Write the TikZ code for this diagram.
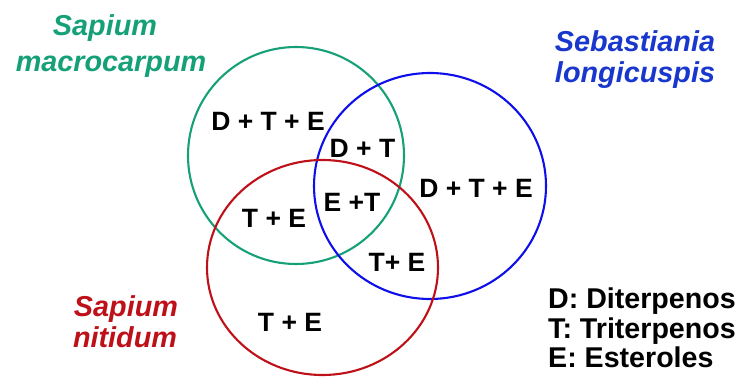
\documentclass[tikz,border=0pt]{standalone}
\usepackage{fontspec}
\setmainfont{Liberation Sans}
\definecolor{cgreen}{RGB}{22,160,120}
\definecolor{cblue}{RGB}{15,15,235}
\definecolor{cbluet}{RGB}{25,55,205}
\definecolor{cred}{RGB}{190,16,24}
\begin{document}
\begin{tikzpicture}[x=1pt,y=-1pt,
  ring/.style={line width=2.1pt},
  lbl/.style={font=\fontsize{26.5}{30}\selectfont\bfseries, anchor=base, inner sep=0pt},
  sp/.style={font=\fontsize{28.8}{32}\selectfont\bfseries\itshape, anchor=base, inner sep=0pt},
  leg/.style={font=\fontsize{28.6}{32}\selectfont\bfseries, anchor=base west, inner sep=0pt}]
\useasboundingbox (0,0) rectangle (741,379);
\draw[ring, cgreen] (296,155.5) ellipse [x radius=108, y radius=108.5];
\draw[ring, cblue] (430,186) ellipse [x radius=116, y radius=113];
\draw[ring, cred] (322.5,267.5) ellipse [x radius=115.5, y radius=107.5];
% region labels
\node[lbl] (g) at (268,131) {D + T + E};
\node[lbl] (gb) at (362.5,158) {D + T};
\node[lbl] (b) at (476,198) {D + T + E};
\node[lbl] (gbr) at (352,212) {E +T};
\node[lbl] (gr) at (274,228) {T + E};
\node[lbl] (br) at (397,272) {T+ E};
\node[lbl] (r) at (290,331) {T + E};
% species
\node[sp, text=cgreen] (s1a) at (105,36) {Sapium};
\node[sp, text=cgreen] (s1b) at (111,72) {macrocarpum};
\node[sp, text=cbluet] (s2a) at (635,52) {Sebastiania};
\node[sp, text=cbluet] (s2b) at (635,83) {longicuspis};
\node[sp, text=cred] (s3a) at (126,316) {Sapium};
\node[sp, text=cred] (s3b) at (125,347) {nitidum};
% legend
\node[leg] (l1) at (548,308) {D: Diterpenos};
\node[leg] (l2) at (548,338) {T: Triterpenos};
\node[leg] (l3) at (548,367) {E: Esteroles};
\end{tikzpicture}
\end{document}
